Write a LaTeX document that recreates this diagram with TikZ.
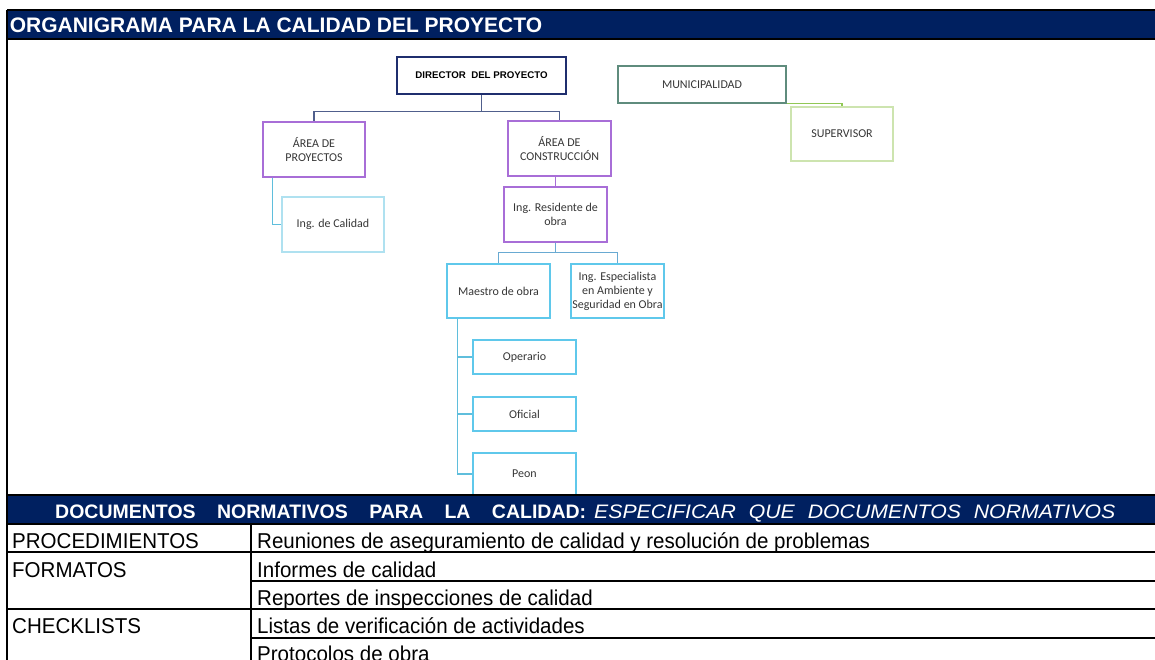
\documentclass[tikz,border=0pt]{standalone}
\usepackage{fontspec}
\setmainfont{Liberation Sans}
\newfontfamily\calfont{Carlito}
\newfontfamily\tabfont[FakeStretch=0.955]{Liberation Sans}
\newfontfamily\banditfont[FakeStretch=1.09]{Liberation Sans Italic}
\definecolor{navy}{RGB}{0,32,96}
\definecolor{dirblue}{RGB}{31,46,110}
\definecolor{busblue}{RGB}{80,95,140}
\definecolor{purp}{RGB}{168,110,215}
\definecolor{lblue}{RGB}{95,200,235}
\definecolor{pblue}{RGB}{175,225,240}
\definecolor{cblue}{RGB}{95,190,220}
\definecolor{sblue}{RGB}{105,170,210}
\definecolor{teal}{RGB}{95,140,125}
\definecolor{lgreen}{RGB}{205,228,175}
\definecolor{cgreen}{RGB}{145,200,85}
\definecolor{txtgray}{RGB}{55,55,55}
\tikzset{
  box/.style={draw, rectangle, inner sep=0pt, line width=1.2pt,
    font=\calfont\fontsize{12}{14.5}\selectfont, text=txtgray, align=center},
  conn/.style={line width=1.3pt},
  tabtxt/.style={anchor=base west, inner sep=0pt, font=\tabfont\fontsize{21.5}{24}\selectfont, text=black},
  bandtxt/.style={anchor=base west, inner sep=0pt, text=white, font=\fontsize{19.5}{22}\selectfont},
  tline/.style={line width=2pt, black}
}
\begin{document}
\begin{tikzpicture}[x=1pt,y=-1pt]
\useasboundingbox (0,0) rectangle (1155,660);
\clip (0,0) rectangle (1155,660);
\fill[white] (0,0) rectangle (1155,660);

% title band
\fill[navy] (7,10) rectangle (1155,39);
\draw[black, line width=1.2pt] (7,10) -- (1155,10) (7,39) -- (1155,39);
\node[anchor=base west, inner sep=0pt, text=white, font=\bfseries\fontsize{21}{24}\selectfont] (title) at (9.6,33) {ORGANIGRAMA PARA LA CALIDAD DEL PROYECTO};

% chart nodes
\node[box, draw=dirblue, line width=2.2pt, minimum width=169pt, minimum height=37pt, text=black,
  font=\bfseries\fontsize{9.7}{11}\selectfont] (dir) at (481.5,75.5) {DIRECTOR\ \ DEL PROYECTO};
\node[box, draw=teal, minimum width=168pt, minimum height=37pt] (mun) at (702,84.5) {MUNICIPALIDAD};
\node[box, draw=lgreen, minimum width=102pt, minimum height=54pt] (sup) at (842,134) {SUPERVISOR};
\node[box, draw=purp, minimum width=102pt, minimum height=55pt] (aproy) at (314,149.5) {ÁREA DE\\PROYECTOS};
\node[box, draw=purp, minimum width=103pt, minimum height=55pt] (acons) at (559.5,148.5) {ÁREA DE\\CONSTRUCCIÓN};
\node[box, draw=purp, minimum width=103pt, minimum height=55pt] (res) at (555.5,214.5) {Ing. Residente de\\obra};
\node[box, draw=pblue, minimum width=102pt, minimum height=55pt] (cal) at (333,224.5) {Ing. de Calidad};
\node[box, draw=lblue, minimum width=103pt, minimum height=54pt] (mae) at (498.5,291) {Maestro de obra};
\node[box, draw=lblue, minimum width=93pt, minimum height=54pt, font=\calfont\fontsize{12}{14}\selectfont] (esp) at (617.5,291) {Ing. Especialista\\en Ambiente y\\Seguridad en Obra};
\node[box, draw=lblue, minimum width=103pt, minimum height=34pt] (ope) at (524.5,357) {Operario};
\node[box, draw=lblue, minimum width=103pt, minimum height=34pt] (ofi) at (524.5,414) {Oficial};
\node[box, draw=lblue, minimum width=103pt, minimum height=42pt] (peon) at (524.5,474) {Peon};

% connectors
\draw[conn, busblue] (dir.south) -- ++(0,16.5) -| (aproy.north);
\draw[conn, busblue] (dir.south) -- ++(0,16.5) -| (acons.north);
\draw[conn, purp] (res.north) -- (res.north |- acons.south);
\draw[conn, sblue] (res.south) -- ++(0,10) -| (mae.north);
\draw[conn, sblue] (res.south) -- ++(0,10) -| (esp.north);
\draw[conn, cblue] ([xshift=10pt]aproy.south west) |- (cal.west);
\draw[conn, cblue] ([xshift=11pt]mae.south west) |- (ope.west);
\draw[conn, cblue] ([xshift=11pt]mae.south west) |- (ofi.west);
\draw[conn, cblue] ([xshift=11pt]mae.south west) |- (peon.west);
\draw[conn, cgreen] (mun.south east) -| (sup.north);

% second band
\fill[navy] (7,495) rectangle (1155,524);
\draw[black, line width=1.2pt] (7,495) -- (1155,495) (7,524) -- (1155,524);
\node[bandtxt] (band1) at (55,518)
  {\makebox[531pt][s]{\bfseries DOCUMENTOS NORMATIVOS PARA LA CALIDAD:}};
\node[bandtxt] (band2) at (594,518)
  {\makebox[521pt][s]{\banditfont ESPECIFICAR QUE DOCUMENTOS NORMATIVOS}};

% table lines
\draw[black, line width=1.6pt] (7,10) -- (7,660);
\draw[tline] (251,524) -- (251,660);
\draw[tline] (7,552) -- (1155,552);
\draw[tline] (251,581) -- (1155,581);
\draw[tline] (7,609) -- (1155,609);
\draw[tline] (251,638) -- (1155,638);

% table text
\node[tabtxt] (t1) at (12,548) {PROCEDIMIENTOS};
\node[tabtxt] (t2) at (12,577) {FORMATOS};
\node[tabtxt] (t3) at (12,633) {CHECKLISTS};
\node[tabtxt] (r1) at (257,548) {Reuniones de aseguramiento de calidad y resolución de problemas};
\node[tabtxt] (r2) at (257,577) {Informes de calidad};
\node[tabtxt] (r3) at (257,605) {Reportes de inspecciones de calidad};
\node[tabtxt] (r4) at (257,633) {Listas de verificación de actividades};
\node[tabtxt] (r5) at (257,661) {Protocolos de obra};
\end{tikzpicture}
\end{document}
